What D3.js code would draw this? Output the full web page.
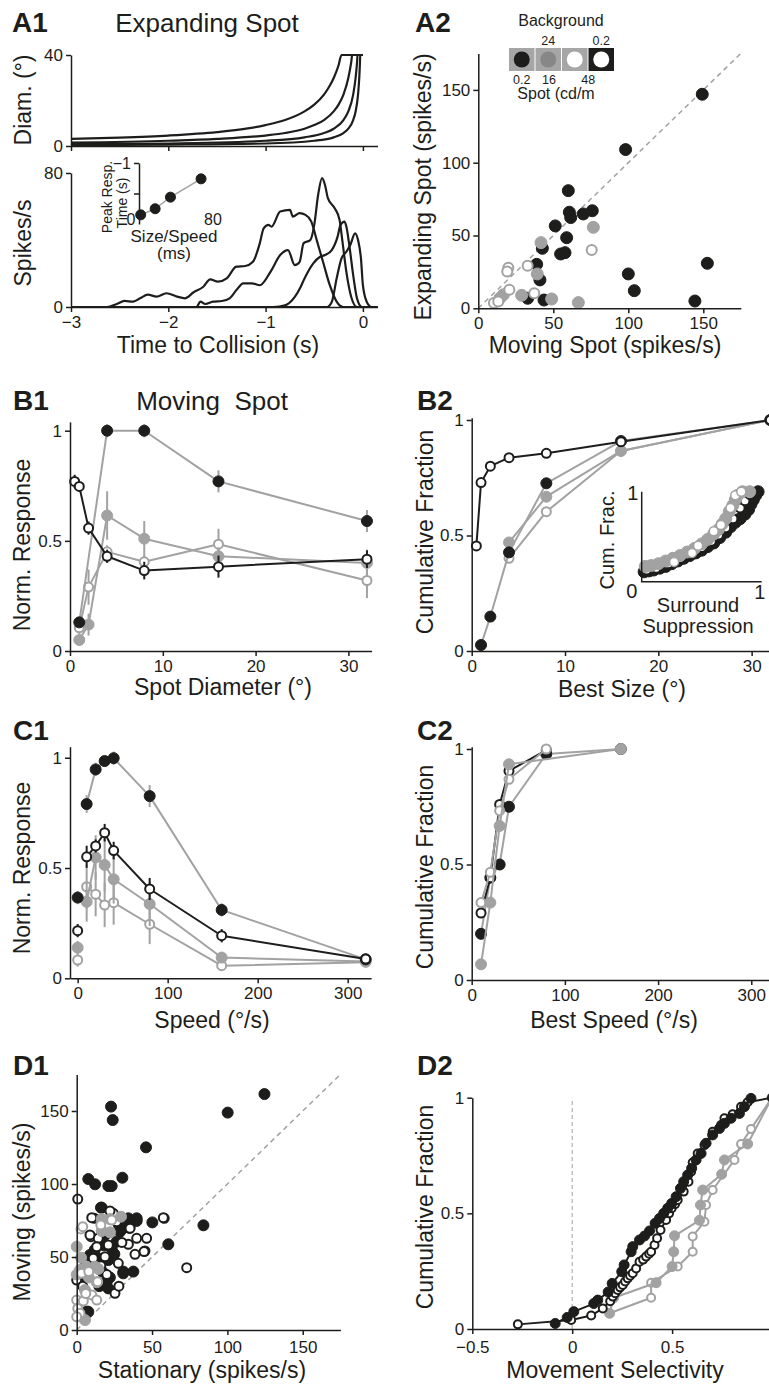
<!DOCTYPE html>
<html>
<head>
<meta charset="utf-8">
<script src="https://cdn.jsdelivr.net/npm/d3@7"></script>
<style>body{margin:0;background:#fff}</style>
</head>
<body>
<svg id="fig"></svg>
<script>
  // ---- data ----
  // A1 top: stimulus diameter (deg) vs time to collision (s), size/speed 80, 40, 20, 10 ms
  var diam80 = [[-3,3.1],[-2.5,3.7],[-2,4.6],[-1.5,6.1],[-1.2,7.6],[-1,9.2],[-0.8,11.4],[-0.6,15.2],[-0.5,18.2],[-0.4,22.6],[-0.35,25.8],[-0.3,29.9],[-0.25,35.5],[-0.22,40],[0,40]];
  var diam40 = [[-3,1.5],[-2,2.3],[-1.5,3.1],[-1,4.6],[-0.8,5.7],[-0.6,7.6],[-0.5,9.2],[-0.4,11.4],[-0.3,15.2],[-0.25,18.2],[-0.2,22.6],[-0.15,29.9],[-0.12,36.9],[-0.11,40],[0,40]];
  var diam20 = [[-3,0.8],[-2,1.1],[-1,2.3],[-0.6,3.8],[-0.4,5.7],[-0.3,7.6],[-0.2,11.4],[-0.15,15.2],[-0.1,22.6],[-0.075,29.9],[-0.06,36.9],[-0.055,40],[0,40]];
  var diam10 = [[-3,0.4],[-2,0.6],[-1,1.1],[-0.5,2.3],[-0.3,3.8],[-0.2,5.7],[-0.15,7.6],[-0.1,11.4],[-0.075,15.2],[-0.05,22.6],[-0.0375,29.9],[-0.03,36.9],[-0.0275,40],[0,40]];

  // A1 bottom: firing rate (spikes/s) vs time to collision
  var rate80 = [[-3,0],[-2.63,0],[-2.53,1.8],[-2.45,3.6],[-2.36,3.2],[-2.29,5.2],[-2.21,7.4],[-2.12,6.2],[-2.02,8.2],[-1.91,6.2],[-1.83,5.2],[-1.74,8.8],[-1.64,12.1],[-1.57,16.5],[-1.49,15.1],[-1.4,17.1],[-1.3,24.1],[-1.21,24.5],[-1.13,27],[-1.06,38],[-1.02,47],[-0.97,49],[-0.94,48],[-0.85,57],[-0.75,58],[-0.72,54],[-0.65,56],[-0.59,55],[-0.53,51],[-0.47,39],[-0.41,27],[-0.34,13],[-0.27,3.2],[-0.2,0],[0.15,0]];
  var rate40 = [[-3,0],[-1.71,0],[-1.67,3.2],[-1.62,1.8],[-1.54,3.2],[-1.45,3.6],[-1.37,5.2],[-1.3,10.1],[-1.23,14.1],[-1.14,14.1],[-1.06,13],[-0.95,21],[-0.85,31],[-0.77,34],[-0.7,25],[-0.65,27],[-0.61,38],[-0.54,40],[-0.5,49],[-0.46,67],[-0.42,77],[-0.39,73],[-0.36,65],[-0.29,59],[-0.24,52],[-0.21,39],[-0.17,21],[-0.12,6],[-0.06,0],[0.15,0]];
  var rate20 = [[-3,0],[-0.92,0],[-0.8,1],[-0.7,6],[-0.64,12],[-0.6,17],[-0.51,26],[-0.44,30],[-0.39,31],[-0.32,34],[-0.26,42],[-0.23,49],[-0.19,51],[-0.17,48],[-0.14,37],[-0.1,19],[-0.06,5],[-0.01,0],[0.15,0]];
  var rate10 = [[-3,0],[-0.37,0],[-0.32,3],[-0.27,17],[-0.22,29],[-0.17,33],[-0.13,37],[-0.08,44],[-0.05,40],[-0.02,29],[0,13],[0.04,3],[0.09,0],[0.15,0]];

  // A1 inset: peak response time (s) vs size/speed (ms)
  var insetSize = [2, 19, 37, 73];
  var insetPeak = [-0.15, -0.25, -0.44, -0.74];

  // A2: expanding vs moving spot (spikes/s)
  var a2KF = [[149.3,147],[98.2,109],[60,80.8],[60.7,66],[61.6,62.3],[70,64.8],[76,67],[51.3,56.6],[58.9,48.5],[54.9,37.3],[57.8,38.2],[42.7,41.2],[38.9,30.2],[41.1,19.5],[32.9,6.9],[43.8,5.7],[100,23.6],[104,12.1],[152.7,30.9],[144.4,5]];
  var a2GF = [[76.7,55.6],[41.8,45.1],[39.3,23.6],[28.9,8.9],[48.9,6.4],[66.7,3.9],[16.7,9.3],[14.4,6.9]];
  var a2GO = [[75.6,40],[32.9,29.3],[20,27.9],[19.3,25.2],[20.7,12.8],[37.3,10.3],[10.4,3.7],[13.3,4.6]];

  // legend
  var legendBg = ['#a6a6a6', '#a6a6a6', '#a6a6a6', '#1d1d1b'];
  var legendSpot = ['#1d1d1b', '#878787', '#ffffff', '#ffffff'];
  var legendBgLabels = ['', '24', '', '0.2'];
  var legendSpotLabels = ['0.2', '16', '', '48'];

  // B1: norm. response vs spot diameter [x, y, sem]
  var b1KF = [[1,0.13,0.02],[4,1.0,0.03],[8,1.0,0.03],[16,0.77,0.05],[32,0.59,0.05]];
  var b1GF = [[1,0.05,0.02],[2,0.12,0.05],[4,0.615,0.11],[8,0.51,0.08],[16,0.43,0.04],[32,0.4,0.06]];
  var b1GO = [[1,0.105,0.03],[2,0.29,0.08],[4,0.45,0.03],[8,0.405,0.03],[16,0.485,0.07],[32,0.32,0.08]];
  var b1KO = [[0.5,0.77,0.03],[1,0.747,0.02],[2,0.558,0.03],[4,0.43,0.03],[8,0.365,0.04],[16,0.383,0.05],[32,0.417,0.04]];

  // B2: cumulative fraction vs best size
  var b2KO = [[0.5,0.455],[1,0.729],[2,0.8],[4,0.837],[8,0.856],[16,0.906],[32,1]];
  var b2KF = [[1,0.026],[2,0.149],[4,0.427],[8,0.726],[16,0.909],[32,1]];
  var b2GF = [[4,0.47],[8,0.668],[16,0.866],[32,1]];
  var b2GO = [[4,0.401],[8,0.603],[16,0.866],[32,1]];

  // B2 inset: cumulative fraction vs surround suppression
  var ssKF = [[0.02,0.11],[0.06,0.12],[0.1,0.13],[0.15,0.15],[0.2,0.17],[0.25,0.2],[0.3,0.23],[0.35,0.26],[0.4,0.29],[0.45,0.32],[0.5,0.35],[0.55,0.39],[0.6,0.43],[0.65,0.49],[0.7,0.55],[0.74,0.61],[0.78,0.66],[0.82,0.7],[0.86,0.75],[0.89,0.8],[0.91,0.86],[0.93,0.91],[0.95,0.96],[0.97,1.0]];
  var ssKO = [[0.04,0.13],[0.12,0.15],[0.22,0.2],[0.32,0.26],[0.42,0.32],[0.5,0.38],[0.58,0.45],[0.64,0.52],[0.7,0.6],[0.76,0.7],[0.82,0.82],[0.86,0.9],[0.9,0.97]];
  var ssGF = [[0.03,0.17],[0.08,0.18],[0.14,0.2],[0.2,0.23],[0.26,0.26],[0.32,0.29],[0.38,0.33],[0.44,0.37],[0.5,0.42],[0.55,0.47],[0.6,0.53],[0.64,0.58],[0.67,0.64],[0.7,0.7],[0.73,0.78],[0.76,0.85],[0.78,0.91],[0.8,0.96],[0.84,1.0],[0.9,1.0]];
  var ssGO = [[0.27,0.22],[0.42,0.32],[0.47,0.4],[0.6,0.56],[0.66,0.63],[0.74,0.82],[0.78,0.96],[0.83,1.0]];

  // C1: norm. response vs speed [x, y, sem]
  var c1KF = [[0,0.366,0.03],[10,0.79,0.04],[20,0.947,0.03],[30,0.985,0.02],[40,0.998,0.03],[80,0.826,0.05],[160,0.31,0.03],[320,0.086,0.01]];
  var c1KO = [[0,0.216,0.03],[10,0.551,0.05],[20,0.6,0.03],[30,0.66,0.04],[40,0.579,0.04],[80,0.405,0.05],[160,0.193,0.03],[320,0.088,0.01]];
  var c1GF = [[0,0.139,0.03],[10,0.347,0.09],[20,0.548,0.1],[30,0.514,0.12],[40,0.449,0.11],[80,0.337,0.1],[160,0.094,0.02],[320,0.076,0.01]];
  var c1GO = [[0,0.083,0.03],[10,0.415,0.1],[20,0.381,0.1],[30,0.332,0.1],[40,0.343,0.1],[80,0.245,0.09],[160,0.057,0.02],[320,0.073,0.02]];

  // C2: cumulative fraction vs best speed
  var c2KF = [[10,0.2],[20,0.443],[30,0.5],[40,0.75],[80,0.978],[160,1]];
  var c2KO = [[10,0.29],[20,0.443],[30,0.76],[40,0.905],[80,0.995]];
  var c2GF = [[10,0.068],[20,0.335],[30,0.667],[40,0.934],[160,1]];
  var c2GO = [[10,0.335],[20,0.466],[30,0.733],[40,0.869],[80,1]];

  // D1: moving vs stationary (spikes/s)
  var d1KF = [[124.6,161.6],[100.2,148.9],[22.8,153],[23.9,143.8],[46,125.1],[30.3,104.3],[7.7,103.4],[12.2,99.8],[21,98.6],[23.2,98.6],[84.1,71.7],[50.2,73.7],[60.8,58.7],[16.6,83.8],[37.6,40],[31,40],[34.3,76.5],[39.8,76.5],[6.6,12.6],[16.1,83.8],[33.2,74.2],[39.8,74.7],[18.8,65.1],[28.7,67.3],[30.9,69.7],[26.5,60.5],[23.2,55.9],[8.8,51.4],[14.3,49.1],[21,47.9],[30.9,38.8],[19.9,33.1],[21,28.5],[7.7,12.5],[17,40],[22,36],[15,30],[10,45],[25,52],[3,35],[12,55],[18,58],[28,72],[35,70]];
  var d1KO = [[0.7,89.7],[11.7,76.5],[24.3,79.9],[26.5,74.2],[58.1,76.5],[9.5,63.9],[14.3,62.8],[35.4,69.7],[34.3,58.7],[46.4,62.8],[39.8,62.8],[45.3,54.1],[38.7,51.8],[21,58.2],[13.3,57.1],[11,49.1],[18.8,50.2],[27.6,45.7],[0,34.2],[25.4,25.1],[73,42.7],[57.5,76.9],[44.7,53.7],[8.8,65.1],[10,76.9],[22.1,81.5],[30,60],[16,44],[20,38],[6,45],[4,30],[28,30]];
  var d1GF = [[16.6,76],[22.1,76],[29.4,77.6],[16.6,67.8],[22.1,66.9],[0,57.1],[2.9,49.5],[2.2,41.1],[6.6,43.4],[12.1,43.4],[14.3,41.8],[13.3,32.7],[5.5,27.4],[5.5,6.8],[0,38],[8,36]];
  var d1GO = [[2.9,69.2],[4,70.8],[23.2,75.3],[3.3,38.8],[13.9,33.1],[10,24],[0,20.5],[4.4,19.9],[13.3,20.5],[0.7,14.8],[2.2,11.4],[0,9],[6,25],[8,40],[16,72]];

  // D2: cumulative fraction vs movement selectivity
  var d2KF = [[-0.085,0.024],[-0.025,0.05],[0.008,0.075],[0.108,0.11],[0.128,0.125],[0.18,0.16],[0.2,0.197],[0.248,0.248],[0.26,0.277],[0.295,0.334],[0.303,0.356],[0.337,0.385],[0.362,0.402],[0.387,0.424],[0.415,0.457],[0.437,0.478],[0.458,0.5],[0.478,0.522],[0.498,0.543],[0.52,0.572],[0.542,0.608],[0.558,0.637],[0.578,0.666],[0.598,0.695],[0.62,0.731],[0.645,0.759],[0.67,0.803],[0.703,0.839],[0.737,0.867],[0.762,0.889],[0.795,0.911],[0.837,0.932],[0.862,0.961],[0.895,0.997]];
  var d2KO = [[-0.272,0.02],[-0.005,0.039],[0.095,0.058],[0.153,0.089],[0.19,0.12],[0.203,0.14],[0.215,0.155],[0.228,0.169],[0.24,0.18],[0.253,0.19],[0.265,0.205],[0.278,0.219],[0.29,0.23],[0.303,0.241],[0.32,0.262],[0.337,0.291],[0.355,0.3],[0.37,0.313],[0.385,0.325],[0.395,0.334],[0.412,0.363],[0.425,0.392],[0.442,0.428],[0.47,0.471],[0.485,0.5],[0.498,0.522],[0.515,0.54],[0.528,0.558],[0.558,0.594],[0.582,0.637],[0.595,0.68],[0.603,0.72],[0.628,0.759],[0.662,0.795],[0.703,0.853],[0.745,0.882],[0.762,0.911],[0.803,0.928],[0.845,0.961],[0.878,0.98],[1.0,1.0]];
  var d2GF = [[0.187,0.068],[0.208,0.135],[0.42,0.2],[0.5,0.27],[0.508,0.334],[0.512,0.403],[0.637,0.47],[0.642,0.536],[0.653,0.601],[0.748,0.669],[0.762,0.731],[0.878,0.8],[1.0,1.0]];
  var d2GO = [[0.187,0.068],[0.395,0.135],[0.395,0.2],[0.528,0.27],[0.603,0.334],[0.603,0.4],[0.662,0.464],[0.67,0.536],[0.703,0.601],[0.812,0.731],[0.845,0.8],[0.895,0.865],[1.0,1.0]];

  // ---- drawing ----
  var FONT = '"Liberation Sans", Arial, Helvetica, sans-serif';
  var K = '#1d1d1b', G = '#a2a2a2';
  var ST = {
    kf: {fill: K, stroke: K, sw: 1},
    gf: {fill: G, stroke: G, sw: 1},
    go: {fill: '#fff', stroke: G, sw: 2},
    ko: {fill: '#fff', stroke: K, sw: 2}
  };

  var svg = d3.select('#fig').attr('width', 769).attr('height', 1389);

  function fmt(d) { return d < 0 ? '\u2212' + Math.abs(d) : String(d); }

  function text(x, y, s, size, anchor, weight) {
    return svg.append('text').attr('x', x).attr('y', y).text(s)
      .attr('font-size', size).attr('font-family', FONT).attr('fill', K)
      .attr('text-anchor', anchor || 'middle').attr('font-weight', weight || 'normal');
  }
  function vtext(x, y, s, size) {
    return svg.append('text').attr('transform', 'translate(' + x + ',' + y + ') rotate(-90)')
      .attr('text-anchor', 'middle').attr('font-size', size).attr('font-family', FONT)
      .attr('fill', K).text(s);
  }
  function styleAxis(a, fs) {
    a.attr('font-size', fs || 17).attr('font-family', FONT);
    a.select('.domain').attr('stroke', K).attr('stroke-width', 1.5);
    a.selectAll('.tick line').attr('stroke', K).attr('stroke-width', 1.5);
    a.selectAll('.tick text').attr('fill', K);
  }
  function xAxis(x, y0, ticks, f, pad) {
    var a = svg.append('g').attr('transform', 'translate(0,' + y0 + ')')
      .call(d3.axisBottom(x).tickValues(ticks).tickSize(5).tickSizeOuter(0).tickPadding(pad || 4).tickFormat(f || fmt));
    styleAxis(a);
    return a;
  }
  function yAxis(y, x0, ticks, f, fs) {
    var a = svg.append('g').attr('transform', 'translate(' + x0 + ',0)')
      .call(d3.axisLeft(y).tickValues(ticks).tickSize(5).tickSizeOuter(0).tickPadding(3).tickFormat(f || fmt));
    styleAxis(a, fs);
    return a;
  }
  function curve(x, y, data, color, w, c) {
    svg.append('path').datum(data)
      .attr('d', d3.line().x(function(d) { return x(d[0]); }).y(function(d) { return y(d[1]); }).curve(c || d3.curveLinear))
      .attr('fill', 'none').attr('stroke', color).attr('stroke-width', w || 2)
      .attr('stroke-linejoin', 'round');
  }
  function dots(x, y, data, st, r) {
    svg.append('g').selectAll('circle').data(data).enter().append('circle')
      .attr('cx', function(d) { return x(d[0]); })
      .attr('cy', function(d) { return y(d[1]); })
      .attr('r', r)
      .attr('fill', st.fill).attr('stroke', st.stroke).attr('stroke-width', st.sw);
  }
  // line + error bars + markers
  function series(x, y, data, st, lc, r, skipZero) {
    var ln = skipZero ? data.filter(function(d) { return d[0] > 0; }) : data;
    if (lc) curve(x, y, ln, lc, 2);
    svg.append('g').selectAll('line').data(data.filter(function(d) { return d[2]; })).enter().append('line')
      .attr('x1', function(d) { return x(d[0]); }).attr('x2', function(d) { return x(d[0]); })
      .attr('y1', function(d) { return y(d[1] - d[2]); }).attr('y2', function(d) { return y(d[1] + d[2]); })
      .attr('stroke', lc || st.stroke).attr('stroke-width', 2);
    dots(x, y, data, st, r);
  }

  // ===== A1 =====
  text(12, 32, 'A1', 28, 'start', 'bold');
  text(207, 32, 'Expanding Spot', 26);

  var a1x = d3.scaleLinear().domain([-3, 0.15]).range([71, 377.5]);
  var a1yTop = d3.scaleLinear().domain([0, 40]).range([146, 55]);
  var a1yBot = d3.scaleLinear().domain([0, 80]).range([307, 173]);

  [diam80, diam40, diam20, diam10].forEach(function(d) { curve(a1x, a1yTop, d, K, 2.2, d3.curveMonotoneX); });
  xAxis(a1x, 146, [-3, -2, -1, 0], function() { return ''; });
  yAxis(a1yTop, 71, [0, 40]);
  vtext(31, 100, 'Diam. (\u00b0)', 23);

  [rate80, rate40, rate20, rate10].forEach(function(d) { curve(a1x, a1yBot, d, K, 2.2, d3.curveMonotoneX); });
  xAxis(a1x, 307, [-3, -2, -1, 0]);
  yAxis(a1yBot, 71, [0, 80]);
  vtext(31, 243, 'Spikes/s', 23);
  text(218, 353, 'Time to Collision (s)', 23);

  // inset
  var inX = d3.scaleLinear().domain([0, 80]).range([139, 207]);
  var inY = d3.scaleLinear().domain([0, -1]).range([224, 163]);
  var inPts = insetSize.map(function(s, i) { return [s, insetPeak[i]]; });
  yAxis(inY, 139, [-1, -0.5], function(d) { return d === -1 ? fmt(d) : ''; }, 16);
  curve(inX, inY, inPts, G, 1.5);
  dots(inX, inY, inPts, ST.kf, 5);
  text(inX(0) - 8, 225, '0', 16);
  text(inX(80) + 6, 225, '80', 16);
  text(174, 242, 'Size/Speed', 17);
  text(174, 259, '(ms)', 17);
  vtext(112, 197, 'Peak Resp.', 14);
  vtext(127, 203, 'Time (s)', 14);

  // ===== A2 =====
  text(415, 32, 'A2', 28, 'start', 'bold');
  var a2x = d3.scaleLinear().domain([0, 175]).range([478.3, 740.8]);
  var a2y = d3.scaleLinear().domain([0, 175]).range([308.3, 53.5]);
  svg.append('line').attr('x1', a2x(0)).attr('y1', a2y(0)).attr('x2', a2x(175)).attr('y2', a2y(175))
    .attr('stroke', G).attr('stroke-width', 1.5).attr('stroke-dasharray', '5,4');
  dots(a2x, a2y, a2KF, ST.kf, 6);
  dots(a2x, a2y, a2GF, ST.gf, 6);
  dots(a2x, a2y, a2GO, ST.go, 5);
  xAxis(a2x, 308.3, [0, 50, 100, 150]);
  yAxis(a2y, 478.3, [0, 50, 100, 150]);
  vtext(431, 187, 'Expanding Spot (spikes/s)', 23);
  text(605, 353, 'Moving Spot (spikes/s)', 23);

  // legend
  var lg = svg.append('g');
  lg.selectAll('rect').data(legendBg).enter().append('rect')
    .attr('x', function(d, i) { return 509 + i * 26.5; }).attr('y', 48)
    .attr('width', 25.5).attr('height', 23).attr('fill', function(d) { return d; });
  lg.selectAll('circle').data(legendSpot).enter().append('circle')
    .attr('cx', function(d, i) { return 509 + i * 26.5 + 12.75; }).attr('cy', 59.5).attr('r', 8)
    .attr('fill', function(d) { return d; });
  legendBgLabels.forEach(function(s, i) { if (s) text(509 + i * 26.5 + 12.75, 45, s, 12.5); });
  text(521.7, 84, legendSpotLabels[0], 12.5);
  text(549, 84, legendSpotLabels[1], 12.5);
  text(588.3, 84, legendSpotLabels[3], 12.5);
  text(561, 26, 'Background', 16);
  text(556, 99, 'Spot (cd/m', 16);

  // ===== B1 =====
  text(13, 410, 'B1', 28, 'start', 'bold');
  text(212, 410, 'Moving  Spot', 26).style('white-space', 'pre');
  var b1x = d3.scaleLinear().domain([0, 32.5]).range([70, 371.6]);
  var b1y = d3.scaleLinear().domain([0, 1.04]).range([651, 421.9]);
  series(b1x, b1y, b1GO, ST.go, G, 4.5);
  series(b1x, b1y, b1GF, ST.gf, G, 5.5);
  series(b1x, b1y, b1KF, ST.kf, G, 5.5);
  series(b1x, b1y, b1KO, ST.ko, K, 4.5);
  xAxis(b1x, 651, [0, 10, 20, 30]);
  yAxis(b1y, 70, [0, 0.5, 1]);
  vtext(30, 545, 'Norm. Response', 23);
  text(223, 695, 'Spot Diameter (\u00b0)', 23);

  // ===== B2 =====
  text(417, 410, 'B2', 28, 'start', 'bold');
  var b2x = d3.scaleLinear().domain([0, 32]).range([471.7, 770.3]);
  var b2y = d3.scaleLinear().domain([0, 1.01]).range([651, 417.7]);
  series(b2x, b2y, b2GO, ST.go, G, 4.5);
  series(b2x, b2y, b2GF, ST.gf, G, 5.5);
  series(b2x, b2y, b2KF, ST.kf, G, 5.5);
  series(b2x, b2y, b2KO, ST.ko, K, 4.5);
  xAxis(b2x, 651, [0, 10, 20, 30]);
  yAxis(b2y, 471.7, [0, 0.5, 1]);
  vtext(433, 532, 'Cumulative Fraction', 23);
  text(622, 697, 'Best Size (\u00b0)', 23);

  // inset
  var ssx = d3.scaleLinear().domain([0, 1]).range([641.7, 761.7]);
  var ssy = d3.scaleLinear().domain([0, 1]).range([581.7, 491.7]);
  dots(ssx, ssy, ssKF, ST.kf, 6);
  dots(ssx, ssy, ssKO, ST.ko, 4.5);
  dots(ssx, ssy, ssGF, ST.gf, 6);
  dots(ssx, ssy, ssGO, {fill: '#fff', stroke: G, sw: 1.5}, 4.5);
  svg.append('path').attr('d', 'M' + ssx(0) + ',' + ssy(1) + 'V' + ssy(0) + 'H' + ssx(1))
    .attr('fill', 'none').attr('stroke', K).attr('stroke-width', 1.5);
  text(ssx(0) - 9, 500, '1', 20);
  text(ssx(0) - 10, 598, '0', 20);
  text(ssx(1) - 2, 599, '1', 20);
  vtext(614, 540, 'Cum. Frac.', 20);
  text(698, 612, 'Surround', 20);
  text(698, 633, 'Suppression', 20);

  // ===== C1 =====
  text(13, 740, 'C1', 28, 'start', 'bold');
  var c1x = d3.scaleLinear().domain([-8.5, 326]).range([70, 371.1]);
  var c1y = d3.scaleLinear().domain([0, 1.05]).range([978.3, 746.7]);
  series(c1x, c1y, c1GO, ST.go, G, 4.5, true);
  series(c1x, c1y, c1GF, ST.gf, G, 5.5, true);
  series(c1x, c1y, c1KF, ST.kf, G, 5.5, true);
  series(c1x, c1y, c1KO, ST.ko, K, 4.5, true);
  xAxis(c1x, 978.3, [0, 100, 200, 300]);
  yAxis(c1y, 70, [0, 0.5, 1]);
  vtext(30, 868, 'Norm. Response', 23);
  text(212, 1028, 'Speed (\u00b0/s)', 23);

  // ===== C2 =====
  text(417, 740, 'C2', 28, 'start', 'bold');
  var c2x = d3.scaleLinear().domain([0, 319]).range([471.7, 769]);
  var c2y = d3.scaleLinear().domain([0, 1.01]).range([980, 746.7]);
  series(c2x, c2y, c2KF, ST.kf, G, 5.5);
  series(c2x, c2y, c2KO, ST.ko, K, 4.5);
  series(c2x, c2y, c2GO, ST.go, G, 4.5);
  series(c2x, c2y, c2GF, ST.gf, G, 5.5);
  xAxis(c2x, 980, [0, 100, 200, 300]);
  yAxis(c2y, 471.7, [0, 0.5, 1]);
  vtext(433, 867, 'Cumulative Fraction', 23);
  text(614, 1028, 'Best Speed (\u00b0/s)', 23);

  // ===== D1 =====
  text(13, 1075, 'D1', 28, 'start', 'bold');
  var d1x = d3.scaleLinear().domain([0, 175]).range([76.7, 340.4]);
  var d1y = d3.scaleLinear().domain([0, 175]).range([1330, 1074.5]);
  svg.append('line').attr('x1', d1x(0)).attr('y1', d1y(0)).attr('x2', d1x(175)).attr('y2', d1y(175))
    .attr('stroke', G).attr('stroke-width', 1.5).attr('stroke-dasharray', '5,4');
  dots(d1x, d1y, d1KF, ST.kf, 5.5);
  dots(d1x, d1y, d1KO, ST.ko, 4.5);
  dots(d1x, d1y, d1GF, ST.gf, 5.5);
  dots(d1x, d1y, d1GO, ST.go, 4.5);
  xAxis(d1x, 1330, [0, 50, 100, 150], null, 6);
  yAxis(d1y, 76.7, [0, 50, 100, 150]);
  vtext(30, 1212, 'Moving (spikes/s)', 23);
  text(202, 1378, 'Stationary (spikes/s)', 23);

  // ===== D2 =====
  text(417, 1075, 'D2', 28, 'start', 'bold');
  var d2x = d3.scaleLinear().domain([-0.5, 0.99]).range([472.3, 770]);
  var d2y = d3.scaleLinear().domain([0, 1]).range([1329, 1097.7]);
  svg.append('line').attr('x1', d2x(0)).attr('x2', d2x(0)).attr('y1', d2y(0)).attr('y2', d2y(1))
    .attr('stroke', G).attr('stroke-width', 1).attr('stroke-dasharray', '4,3');
  series(d2x, d2y, d2GO, ST.go, G, 4);
  series(d2x, d2y, d2GF, ST.gf, G, 5);
  series(d2x, d2y, d2KO, ST.ko, K, 4);
  series(d2x, d2y, d2KF, ST.kf, K, 5);
  xAxis(d2x, 1329, [-0.5, 0, 0.5], null, 7);
  yAxis(d2y, 472.3, [0, 0.5, 1]);
  vtext(433, 1207, 'Cumulative Fraction', 23);
  text(615, 1378, 'Movement Selectivity', 23);
</script>
</body>
</html>
